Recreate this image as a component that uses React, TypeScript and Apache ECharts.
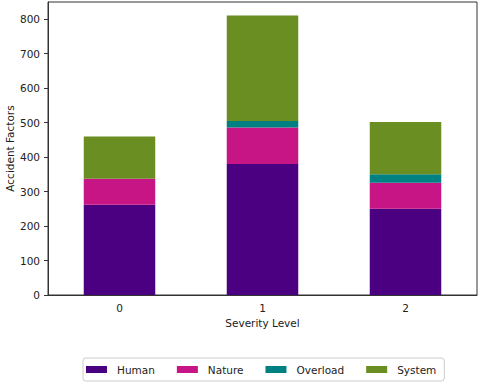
import React, { useEffect, useRef } from "react";
import * as echarts from "echarts";

const categories = ["0", "1", "2"];
const human = [262, 380, 250];
const nature = [75, 106, 76];
const overload = [0, 19, 24];
const system = [123, 306, 152];
const yTicks = [0, 100, 200, 300, 400, 500, 600, 700, 800];

const FONT = "DejaVu Sans";
const FS = 10.5;

export default function App() {
  const ref = useRef<HTMLDivElement>(null);
  useEffect(() => {
    document.body.style.margin = "0";
    const chart = echarts.init(ref.current!, null, { renderer: "svg" });
    const mk = (name: string, data: number[], color: string) => ({
      name,
      type: "bar",
      stack: "total",
      data,
      barWidth: "50%",
      itemStyle: { color },
      emphasis: { disabled: true },
    });
    chart.setOption({
      animation: false,
      textStyle: { fontFamily: FONT },
      grid: {
        left: 48,
        right: 3,
        top: 2,
        bottom: 88,
        outerBoundsMode: "none",
        containLabel: false,
        show: true,
        borderColor: "#333",
        borderWidth: 1,
        backgroundColor: "transparent",
      },
      legend: {
        data: ["Human", "Nature", "Overload", "System"],
        left: 83,
        top: 358,
        itemWidth: 21,
        itemHeight: 7,
        itemGap: 22,
        padding: [6, 8, 6, 3],
        borderColor: "#ccc",
        borderWidth: 1,
        borderRadius: 3,
        icon: "rect",
        textStyle: { fontFamily: FONT, fontSize: FS, color: "#222", padding: [0, 0, 0, 5] },
      },
      xAxis: {
        type: "category",
        data: categories,
        name: "Severity Level",
        nameLocation: "middle",
        nameGap: 22,
        nameMoveOverlap: false,
        nameTextStyle: { fontFamily: FONT, fontSize: FS, color: "#222" },
        axisLine: { lineStyle: { color: "#333", width: 1 } },
        axisTick: { alignWithLabel: true, length: 4, lineStyle: { color: "#333" } },
        axisLabel: { fontFamily: FONT, fontSize: FS, color: "#222", margin: 7 },
      },
      yAxis: {
        type: "value",
        min: 0,
        max: 850,
        name: "Accident Factors",
        nameLocation: "middle",
        nameGap: 33,
        nameMoveOverlap: false,
        nameTextStyle: { fontFamily: FONT, fontSize: FS, color: "#222" },
        splitLine: { show: false },
        axisLine: { show: true, lineStyle: { color: "#333", width: 1 } },
        axisTick: { show: true, length: 4, lineStyle: { color: "#333" }, customValues: yTicks },
        axisLabel: { fontFamily: FONT, fontSize: FS, color: "#222", margin: 8, customValues: yTicks },
      },
      series: [
        mk("Human", human, "#4B0082"),
        mk("Nature", nature, "#C71585"),
        mk("Overload", overload, "#008080"),
        mk("System", system, "#6B8E23"),
      ],
    });
    return () => chart.dispose();
  }, []);
  return <div ref={ref} style={{ width: 480, height: 383 }} />;
}
